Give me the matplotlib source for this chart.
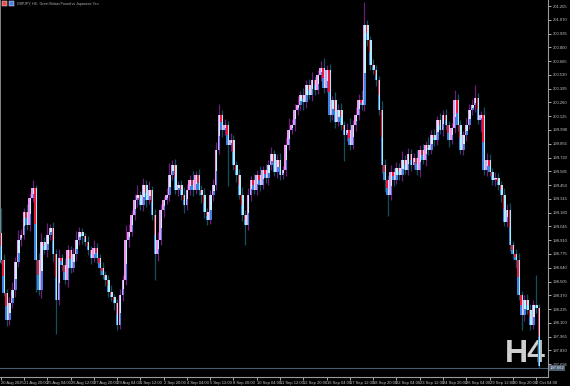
import matplotlib
matplotlib.use("Agg")
import matplotlib.pyplot as plt

# GBPJPY H4 closes (open = previous close)
first_open = 198.98
closes = [
    198.72, 198.39, 198.13, 198.29, 198.42, 198.70, 198.91, 198.96, 199.19, 199.06,
    199.32, 199.42, 198.72, 198.42, 198.89, 198.81, 198.96, 199.03, 198.77, 198.32,
    198.74, 198.67, 198.52, 198.81, 198.64, 198.77, 198.91, 198.99, 198.95, 198.89,
    198.81, 198.74, 198.83, 198.74, 198.64, 198.57, 198.52, 198.40, 198.35, 198.29,
    198.08, 198.37, 198.52, 198.91, 198.99, 199.16, 199.30, 199.35, 199.25, 199.45,
    199.30, 199.40, 199.16, 198.77, 198.91, 199.21, 199.30, 199.35, 199.55, 199.65,
    199.40, 199.45, 199.35, 199.25, 199.40, 199.50, 199.40, 199.55, 199.40, 199.35,
    199.19, 199.11, 199.35, 199.45, 199.79, 200.14, 199.99, 200.04, 199.84, 199.89,
    199.65, 199.55, 199.35, 199.16, 199.06, 199.35, 199.50, 199.40, 199.55, 199.45,
    199.60, 199.52, 199.65, 199.75, 199.58, 199.70, 199.55, 199.60, 199.84, 199.99,
    200.04, 200.19, 200.23, 200.33, 200.26, 200.43, 200.33, 200.48, 200.38, 200.53,
    200.60, 200.40, 200.58, 200.14, 200.28, 200.07, 200.19, 200.04, 199.94, 199.99,
    199.84, 200.04, 200.14, 200.28, 200.23, 201.02, 200.87, 200.63, 200.58, 200.48,
    200.19, 199.65, 199.50, 199.35, 199.58, 199.50, 199.62, 199.55, 199.70, 199.60,
    199.75, 199.65, 199.72, 199.60, 199.79, 199.70, 199.84, 199.79, 199.94, 199.89,
    200.09, 199.99, 200.14, 200.04, 199.89, 200.01, 200.28, 200.04, 199.79, 199.94,
    200.04, 200.19, 200.23, 200.30, 200.09, 200.14, 199.60, 199.70, 199.58, 199.50,
    199.52, 199.45, 199.35, 199.09, 199.21, 198.86, 198.77, 198.72, 198.37, 198.18,
    198.32, 198.23, 198.08, 198.27, 198.25, 197.68,
]
upper_wick = [
    0.25, 0.05, 0.04, 0.06, 0.08, 0.05, 0.10, 0.06, 0.04, 0.07,
    0.05, 0.08, 0.03, 0.06, 0.09, 0.05, 0.12, 0.04, 0.06, 0.05,
    0.08, 0.03, 0.07, 0.05, 0.04, 0.06, 0.09, 0.05, 0.04, 0.03,
    0.06, 0.04, 0.08, 0.05, 0.03, 0.06, 0.04, 0.05, 0.07, 0.03,
    0.04, 0.06, 0.05, 0.15, 0.08, 0.05, 0.06, 0.10, 0.04, 0.07,
    0.05, 0.09, 0.04, 0.06, 0.08, 0.05, 0.04, 0.07, 0.12, 0.05,
    0.06, 0.04, 0.05, 0.08, 0.06, 0.05, 0.09, 0.04, 0.06, 0.05,
    0.07, 0.04, 0.05, 0.06, 0.08, 0.10, 0.05, 0.06, 0.04, 0.07,
    0.05, 0.04, 0.06, 0.08, 0.05, 0.07, 0.04, 0.06, 0.05, 0.09,
    0.04, 0.06, 0.05, 0.07, 0.04, 0.05, 0.06, 0.04, 0.08, 0.12,
    0.06, 0.05, 0.09, 0.04, 0.07, 0.05, 0.06, 0.08, 0.04, 0.05,
    0.07, 0.10, 0.05, 0.06, 0.04, 0.08, 0.05, 0.06, 0.04, 0.07,
    0.12, 0.05, 0.08, 0.06, 0.10, 0.22, 0.05, 0.04, 0.06, 0.05,
    0.04, 0.08, 0.06, 0.05, 0.07, 0.04, 0.06, 0.05, 0.08, 0.04,
    0.06, 0.05, 0.04, 0.07, 0.05, 0.06, 0.04, 0.08, 0.05, 0.06,
    0.04, 0.07, 0.05, 0.06, 0.04, 0.05, 0.10, 0.06, 0.05, 0.04,
    0.07, 0.05, 0.06, 0.13, 0.05, 0.04, 0.08, 0.06, 0.05, 0.04,
    0.06, 0.05, 0.04, 0.07, 0.05, 0.06, 0.04, 0.05, 0.06, 0.04,
    0.05, 0.06, 0.05, 0.05, 0.30, 0.03,
]
lower_wick = [
    0.04, 0.03, 0.06, 0.05, 0.04, 0.07, 0.05, 0.06, 0.04, 0.05,
    0.06, 0.04, 0.32, 0.05, 0.08, 0.04, 0.06, 0.05, 0.07, 0.33,
    0.05, 0.06, 0.04, 0.07, 0.05, 0.04, 0.06, 0.05, 0.08, 0.04,
    0.05, 0.06, 0.04, 0.05, 0.07, 0.04, 0.06, 0.05, 0.04, 0.06,
    0.05, 0.04, 0.06, 0.05, 0.07, 0.04, 0.05, 0.06, 0.04, 0.05,
    0.06, 0.04, 0.05, 0.25, 0.06, 0.05, 0.07, 0.04, 0.06, 0.05,
    0.04, 0.06, 0.05, 0.07, 0.04, 0.05, 0.06, 0.04, 0.05, 0.08,
    0.06, 0.05, 0.04, 0.06, 0.05, 0.04, 0.07, 0.05, 0.40, 0.06,
    0.05, 0.07, 0.04, 0.06, 0.20, 0.05, 0.06, 0.04, 0.05, 0.06,
    0.04, 0.05, 0.07, 0.05, 0.04, 0.06, 0.05, 0.04, 0.06, 0.05,
    0.04, 0.06, 0.05, 0.04, 0.07, 0.05, 0.04, 0.06, 0.05, 0.04,
    0.06, 0.05, 0.04, 0.07, 0.05, 0.06, 0.04, 0.05, 0.25, 0.06,
    0.05, 0.04, 0.06, 0.05, 0.04, 0.05, 0.06, 0.05, 0.04, 0.06,
    0.05, 0.08, 0.12, 0.20, 0.05, 0.06, 0.04, 0.05, 0.06, 0.04,
    0.05, 0.06, 0.04, 0.05, 0.07, 0.04, 0.06, 0.05, 0.04, 0.06,
    0.05, 0.04, 0.06, 0.05, 0.07, 0.04, 0.05, 0.06, 0.04, 0.05,
    0.06, 0.04, 0.05, 0.06, 0.04, 0.12, 0.05, 0.06, 0.04, 0.05,
    0.06, 0.05, 0.07, 0.04, 0.05, 0.06, 0.04, 0.08, 0.05, 0.15,
    0.06, 0.04, 0.05, 0.04, 0.05, 0.02,
]
time_labels = [
    "20 Aug 2025", "21 Aug 20:00", "25 Aug 04:00", "26 Aug 12:00", "27 Aug 20:00",
    "29 Aug 04:00", "1 Sep 12:00", "2 Sep 20:00", "4 Sep 04:00", "5 Sep 12:00",
    "8 Sep 20:00", "10 Sep 04:00", "11 Sep 12:00", "12 Sep 20:00", "16 Sep 04:00",
    "17 Sep 12:00", "18 Sep 20:00", "22 Sep 04:00", "23 Sep 12:00", "24 Sep 20:00",
    "26 Sep 04:00", "29 Sep 12:00", "30 Sep 20:00", "2 Oct 04:00",
]
label_bars = list(range(0, 8 * len(time_labels), 8))
price_ticks = [197.695 + 0.135 * k for k in range(27)]
last_price = 197.66

plt.rcParams["font.family"] = ["Liberation Sans", "DejaVu Sans"]

opens = [first_open] + closes[:-1]
highs = [max(o, c) + u for o, c, u in zip(opens, closes, upper_wick)]
lows = [min(o, c) - d for o, c, d in zip(opens, closes, lower_wick)]
idx = list(range(len(closes)))

fig = plt.figure(figsize=(5.7, 3.86), dpi=100, facecolor="black")
ax = fig.add_axes([0, 9 / 386, 548 / 570, 377 / 386], facecolor="black")
ax.set_xlim(-0.24, 188.08)
ax.set_ylim(197.569, 201.264)

up = [c >= o for o, c in zip(opens, closes)]
wick_col = ["#6b1e7c" if u else "#11505e" for u in up]
ax.vlines(idx, lows, highs, colors=wick_col, linewidth=0.9, zorder=2)

w = 0.48
for i, o, c, u in zip(idx, opens, closes, up):
    lo, h = min(o, c), max(abs(c - o), 0.012)
    if u:
        ax.bar(i - w, h, width=w, bottom=lo, align="edge", color="#ee92ee", linewidth=0, zorder=3)
        ax.bar(i, h, width=w, bottom=lo, align="edge", color="#bff4ff", linewidth=0, zorder=3)
        ax.bar(i, h * 0.4, width=w, bottom=lo, align="edge", color="#3b82e0", linewidth=0, zorder=3)
    else:
        ax.bar(i - w, h * 0.5, width=w, bottom=lo + h * 0.5, align="edge", color="#f0143c", linewidth=0, zorder=3)
        ax.bar(i - w, h * 0.5, width=w, bottom=lo, align="edge", color="#3b82e0", linewidth=0, zorder=3)
        ax.bar(i, h, width=w, bottom=lo, align="edge", color="#a8ecf8", linewidth=0, zorder=3)

ax.axhline(last_price, color="#4a5c70", linewidth=0.8, zorder=1)

for s in ["top", "left"]:
    ax.spines[s].set_visible(False)
ax.spines["right"].set_color("#9a9a9a")
ax.spines["bottom"].set_color("#9a9a9a")
ax.spines["right"].set_linewidth(0.8)
ax.spines["bottom"].set_linewidth(0.8)
ax.plot([-0.24, -0.24], [198.7, 201.264], color="#9a9a9a", linewidth=1.2, clip_on=False)

ax.yaxis.tick_right()
ax.set_yticks(price_ticks)
ax.set_yticklabels([f"{p:.3f}" for p in price_ticks])
ax.tick_params(axis="y", colors="#c8c8c8", labelsize=3.0, length=2, width=0.6, pad=1.5)
ax.set_xticks(label_bars)
ax.set_xticklabels(time_labels, ha="left")
ax.tick_params(axis="x", colors="#c8c8c8", labelsize=3.0, length=2.5, width=0.6, pad=0.5)

ax.text(1.003, last_price, "197.662", transform=ax.get_yaxis_transform(), fontsize=3.0,
        color="white", va="center", ha="left",
        bbox=dict(boxstyle="square,pad=0.25", facecolor="#4a5c70", edgecolor="none"))

ax.text(546 / 548, 8 / 377, "H4", transform=ax.transAxes, fontsize=23, fontweight="bold",
        color="#cfcfcf", ha="right", va="bottom", zorder=1)

fig.patches.append(plt.Rectangle((2 / 570, 1 - 6 / 386), 5 / 570, 5 / 386, transform=fig.transFigure,
                                 facecolor="#e05050", edgecolor="white", linewidth=0.3))
fig.patches.append(plt.Rectangle((9 / 570, 1 - 6 / 386), 5 / 570, 5 / 386, transform=fig.transFigure,
                                 facecolor="#5080e0", edgecolor="white", linewidth=0.3))
fig.text(17 / 570, 1 - 4 / 386, "GBPJPY, H4:  Great Britain Pound vs Japanese Yen", fontsize=2.5,
         color="#b4b4b4", va="center", ha="left")

fig.savefig("out.png", dpi=100, facecolor="black")
